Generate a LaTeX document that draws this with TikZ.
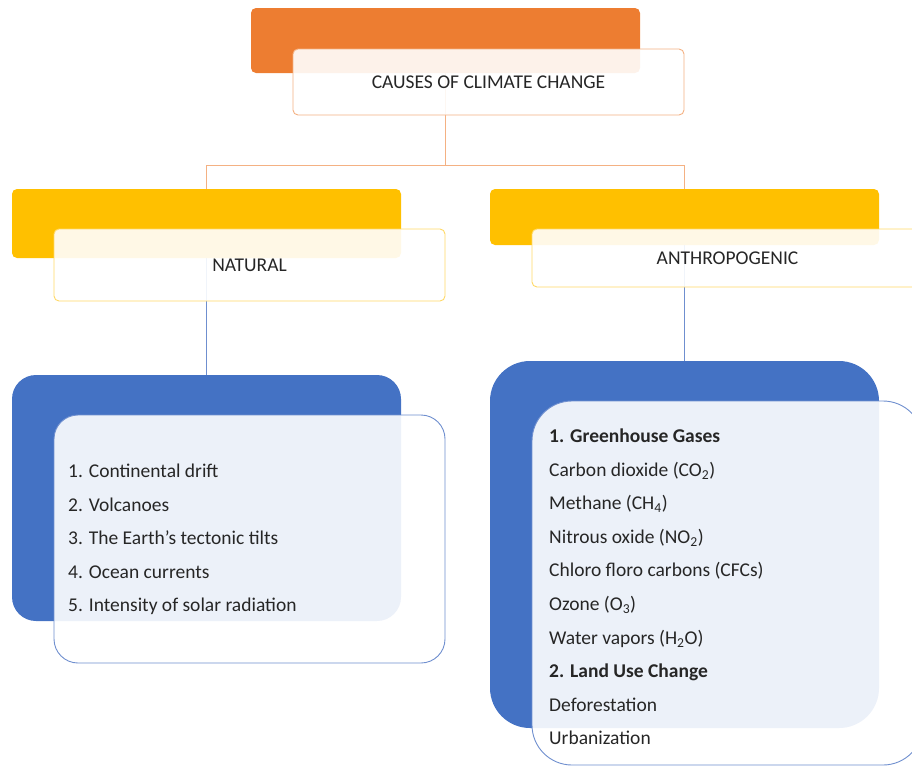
\documentclass[tikz,border=0pt]{standalone}
\usepackage{fontspec}
\setmainfont{Carlito}
\usetikzlibrary{backgrounds}
\definecolor{orng}{HTML}{ED7D31}
\definecolor{orngln}{HTML}{F4B183}
\definecolor{ylw}{HTML}{FFC000}
\definecolor{ylwln}{HTML}{FFD966}
\definecolor{blu}{HTML}{4472C4}
\definecolor{bluln}{HTML}{6F8FCF}
\definecolor{txt}{HTML}{262626}
\begin{document}
\begin{tikzpicture}[x=1pt,y=-1pt,
  backbox/.style={draw=none,rectangle,inner sep=0pt},
  frontbox/.style={rectangle,inner sep=0pt,fill=white,fill opacity=0.9,text opacity=1,line width=0.9pt,text=txt,font=\fontsize{19.5}{23}\selectfont},
  listtext/.style={anchor=west,align=left,inner sep=0pt,text=txt,font=\fontsize{19.5}{33.6}\selectfont},
  conn/.style={line width=0.8pt}]
\useasboundingbox (0,0) rectangle (912,766);
\clip (0,0) rectangle (912,766);
% back boxes
\node[backbox,fill=orng,rounded corners=5pt,minimum width=389pt,minimum height=65pt] (topback) at (445.5,40.5) {};
\node[backbox,fill=ylw,rounded corners=5pt,minimum width=389pt,minimum height=69pt] (natback) at (206.5,223.5) {};
\node[backbox,fill=ylw,rounded corners=5pt,minimum width=389pt,minimum height=56pt] (antback) at (684.5,217) {};
\node[backbox,fill=blu,rounded corners=24pt,minimum width=389pt,minimum height=246pt] (natblue) at (206.5,498) {};
\node[backbox,fill=blu,rounded corners=40pt,minimum width=389pt,minimum height=367pt] (antblue) at (684.5,544.5) {};
% front boxes
\node[frontbox,draw=orngln,rounded corners=5pt,minimum width=391pt,minimum height=66pt] (topfront) at (488.5,82) {CAUSES OF CLIMATE CHANGE};
\node[frontbox,draw=ylwln,rounded corners=5pt,minimum width=391pt,minimum height=72pt] (natfront) at (249.5,265) {NATURAL};
\node[frontbox,draw=ylwln,rounded corners=5pt,minimum width=391pt,minimum height=58pt] (antfront) at (727.5,258) {ANTHROPOGENIC};
\node[frontbox,draw=bluln,rounded corners=24pt,minimum width=391pt,minimum height=248pt] (natlist) at (249.5,539) {};
\node[frontbox,draw=bluln,rounded corners=40pt,minimum width=391pt,minimum height=364pt] (antlist) at (727.5,583) {};
% list texts
\node[listtext] (nattext) at (68,539.5) {1. Continental drift\\2. Volcanoes\\3. The Earth’s tectonic tilts\\4. Ocean currents\\5. Intensity of solar radiation};
\node[listtext] (anttext) at (549,587) {\textbf{1. Greenhouse Gases}\\Carbon dioxide (CO\textsubscript{2})\\Methane (CH\textsubscript{4})\\Nitrous oxide (NO\textsubscript{2})\\Chloro floro carbons (CFCs)\\Ozone (O\textsubscript{3})\\Water vapors (H\textsubscript{2}O)\\\textbf{2. Land Use Change}\\Deforestation\\Urbanization};
% connectors
\begin{pgfonlayer}{background}
\draw[conn,draw=orngln] (topback.south) -- ++(0,92) -| (natback.north);
\draw[conn,draw=orngln] (topback.south) -- ++(0,92) -| (antback.north);
\draw[conn,draw=bluln] (natback.south) -- (natblue.north);
\draw[conn,draw=bluln] (antback.south) -- (antblue.north);
\end{pgfonlayer}
\end{tikzpicture}
\end{document}
